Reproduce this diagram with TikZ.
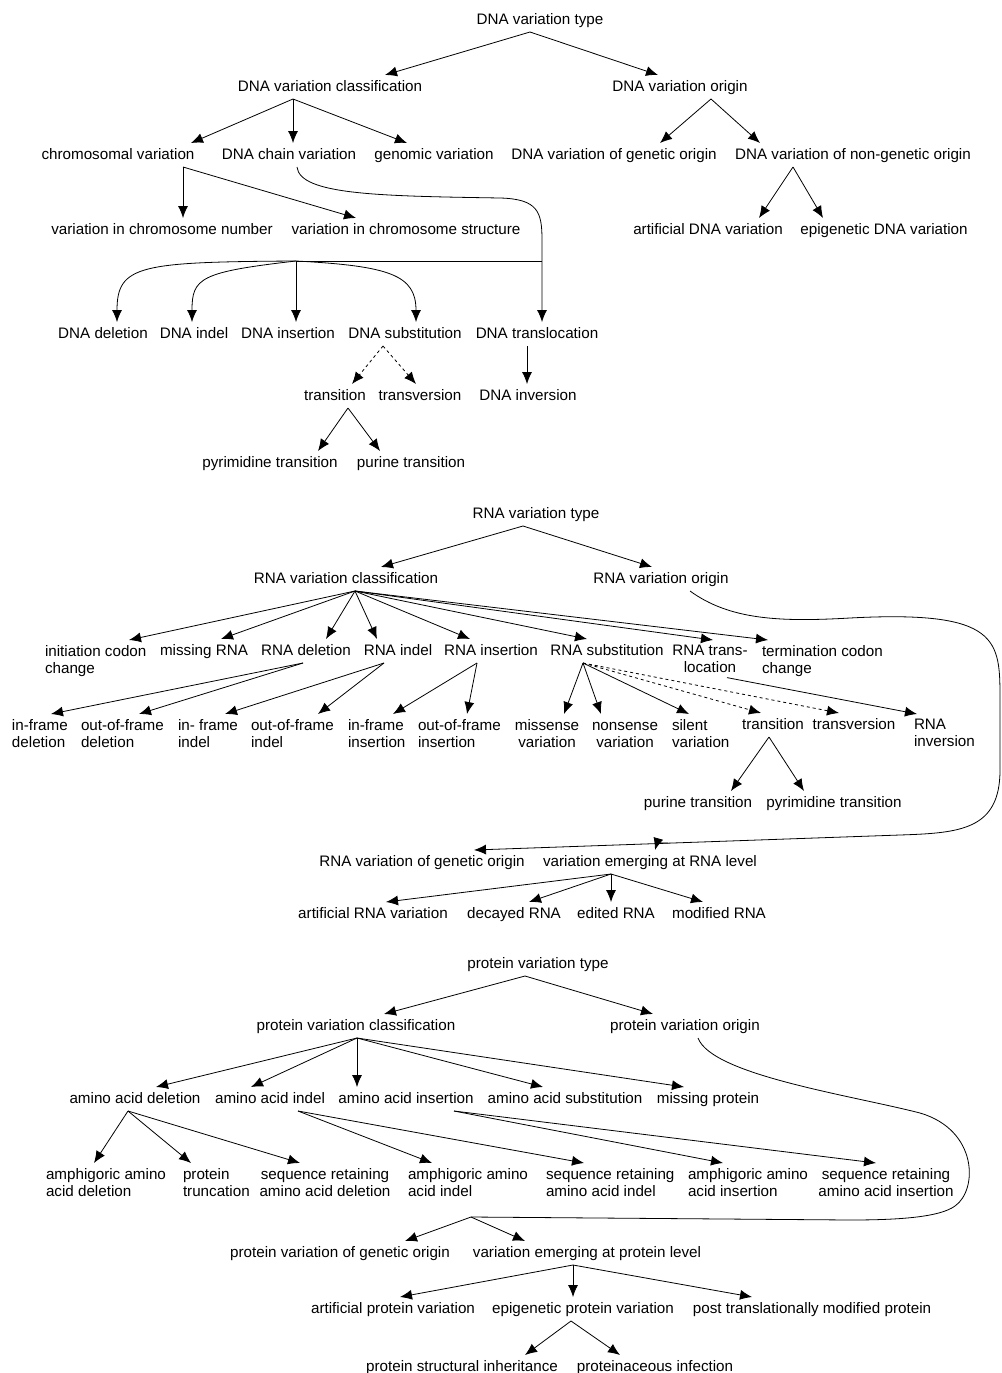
\documentclass[tikz,border=0pt]{standalone}
\usepackage{fontspec}
\setmainfont{Liberation Sans}
\usetikzlibrary{arrows.meta}
\tikzset{
  lbl/.style={inner sep=0pt,outer xsep=0pt,outer ysep=5pt,text height=11pt,text depth=3pt},
  lbll/.style={inner sep=0pt,outer xsep=0pt,outer ysep=5pt,anchor=north west,align=left},
  lblc/.style={inner sep=0pt,outer xsep=0pt,outer ysep=5pt,anchor=north,align=center}
}
\begin{document}
\begin{tikzpicture}[x=1pt,y=-1pt,line width=0.8pt,>={Latex[length=12pt,width=10pt]},font=\fontsize{15.2}{17}\selectfont]
   \useasboundingbox (0,0) rectangle (1001,1373);

   \node[lbl] (dnatype)   at (540,20)  {DNA variation type};
   \node[lbl] (dnaclass)  at (330,87)  {DNA variation classification};
   \node[lbl] (dnaorigin) at (680,87)  {DNA variation origin};
   \node[lbl] (chromo)    at (118,155) {chromosomal variation};
   \node[lbl] (chain)     at (289,155) {DNA chain variation};
   \node[lbl] (genomic)   at (434,155) {genomic variation};
   \node[lbl] (genetic)   at (614,155) {DNA variation of genetic origin};
   \node[lbl] (nongen)    at (853,155) {DNA variation of non-genetic origin};
   \node[lbl] (chrnum)    at (162,230) {variation in chromosome number};
   \node[lbl] (chrstr)    at (406,230) {variation in chromosome structure};
   \node[lbl] (artdna)    at (708,230) {artificial DNA variation};
   \node[lbl] (epidna)    at (884,230) {epigenetic DNA variation};
   \node[lbl] (deletion)  at (103,334) {DNA deletion};
   \node[lbl] (indel)     at (194,334) {DNA indel};
   \node[lbl] (insertion) at (288,334) {DNA insertion};
   \node[lbl] (subst)     at (405,334) {DNA substitution};
   \node[lbl] (transloc)  at (537,334) {DNA translocation};
   \node[lbl] (transit)   at (335,396) {transition};
   \node[lbl] (transv)    at (420,396) {transversion};
   \node[lbl] (invers)    at (528,396) {DNA inversion};
   \node[lbl] (pyrtr)     at (270,463) {pyrimidine transition};
   \node[lbl] (purtr)     at (411,463) {purine transition};
   \coordinate (jr) at (542,261);
   \coordinate (jl) at (296,261);

   \path[->] ([xshift=-10pt]dnatype.south) edge ([xshift=55pt]dnaclass.north) edge ([xshift=-22pt]dnaorigin.north);
   \path[->] ([xshift=-37pt]dnaclass.south) edge ([xshift=73pt]chromo.north) edge ([xshift=4pt]chain.north) edge ([xshift=-27pt]genomic.north);
   \path[->] ([xshift=31pt]dnaorigin.south) edge ([xshift=46pt]genetic.north) edge ([xshift=-93pt]nongen.north);
   \path[->] ([xshift=65pt]chromo.south) edge ([xshift=21pt]chrnum.north) edge ([xshift=-50pt]chrstr.north);
   \path[->] ([xshift=-60pt]nongen.south) edge ([xshift=51pt]artdna.north) edge ([xshift=-61pt]epidna.north);
   \draw[->] ([xshift=8pt]chain.south) .. controls (300,195) and (380,196) .. (500,198) .. controls (538,199) and (542,212) .. (542,240) -- ([xshift=5pt]transloc.north);
   \draw (jr) -- (jl);
   \draw[->] (jl) .. controls (140,262) and (117,265) .. ([xshift=14pt]deletion.north);
   \draw[->] (jl) .. controls (200,272) and (192,278) .. ([xshift=-2pt]indel.north);
   \draw[->] (jl) -- ([xshift=8pt]insertion.north);
   \draw[->] (jl) .. controls (390,266) and (416,275) .. ([xshift=11pt]subst.north);
   \path[->,dashed] ([xshift=-22pt]subst.south) edge ([xshift=17pt]transit.north) edge ([xshift=-4pt]transv.north);
   \draw[->] ([xshift=-10pt]transloc.south) -- ([xshift=-1pt]invers.north);
   \path[->] ([xshift=13pt]transit.south) edge ([xshift=48pt]pyrtr.north) edge ([xshift=-31pt]purtr.north);

   \node[lbl]  (rnatype)   at (536,514) {RNA variation type};
   \node[lbl]  (rnaclass)  at (346,579) {RNA variation classification};
   \node[lbl]  (rnaorigin) at (661,579) {RNA variation origin};
   \node[lbll] (initcodon) at (45,640)  {initiation codon\\change};
   \node[lbl]  (missrna)   at (204,651) {missing RNA};
   \node[lbl]  (rnadel)    at (306,651) {RNA deletion};
   \node[lbl]  (rnaindel)  at (398,651) {RNA indel};
   \node[lbl]  (rnains)    at (491,651) {RNA insertion};
   \node[lbl]  (rnasub)    at (607,651) {RNA substitution};
   \node[lblc] (rnatrans)  at (710,640) {RNA trans-\\location};
   \node[lbll] (termcodon) at (762,640) {termination codon\\change};
   \node[lbll] (ifdel)     at (12,714)  {in-frame\\deletion};
   \node[lbll] (oofdel)    at (81,714)  {out-of-frame\\deletion};
   \node[lbll] (ifindel)   at (178,714) {in- frame\\indel};
   \node[lbll] (oofindel)  at (251,714) {out-of-frame\\indel};
   \node[lbll] (ifins)     at (348,714) {in-frame\\insertion};
   \node[lbll] (oofins)    at (418,714) {out-of-frame\\insertion};
   \node[lblc] (missense)  at (547,714) {missense\\variation};
   \node[lblc] (nonsense)  at (625,714) {\vphantom{h}nonsense\\variation};
   \node[lbll] (silent)    at (672,714) {silent\\variation};
   \node[lbl]  (rtransit)  at (773,725) {transition};
   \node[lbl]  (rtransv)   at (854,725) {transversion};
   \node[lbll] (rnainv)    at (914,714) {RNA\\inversion};
   \node[lbl]  (rpur)      at (698,803) {purine transition};
   \node[lbl]  (rpyr)      at (834,803) {pyrimidine transition};
   \node[lbl]  (rnagen)    at (422,862) {RNA variation of genetic origin};
   \node[lbl]  (rnalevel)  at (650,862) {variation emerging at RNA level};
   \node[lbl]  (artrna)    at (373,914) {artificial RNA variation};
   \node[lbl]  (decrna)    at (514,914) {decayed RNA};
   \node[lbl]  (edirna)    at (616,914) {edited RNA};
   \node[lbl]  (modrna)    at (719,914) {modified RNA};
   \coordinate (rj) at (668,843);

   \path[->] ([xshift=-13pt]rnatype.south) edge ([xshift=35pt]rnaclass.north) edge ([xshift=-9pt]rnaorigin.north);
   \path[->] ([xshift=9pt]rnaclass.south) edge ([xshift=84pt]initcodon.north west) edge ([xshift=17pt]missrna.north)
      edge ([xshift=20pt]rnadel.north) edge ([xshift=-21pt]rnaindel.north) edge ([xshift=-21pt]rnains.north)
      edge ([xshift=-20pt]rnasub.north) edge ([xshift=3pt]rnatrans.north) edge ([xshift=6pt]termcodon.north west);
   \path[->] ([xshift=-3pt]rnadel.south) edge ([xshift=39pt]ifdel.north west) edge ([xshift=58pt]oofdel.north west);
   \path[->] ([xshift=-14pt]rnaindel.south) edge ([xshift=47pt]ifindel.north west) edge ([xshift=67pt]oofindel.north west);
   \path[->] ([xshift=-14pt]rnains.south) edge ([xshift=45pt]ifins.north west) edge ([xshift=49pt]oofins.north west);
   \path[->] ([xshift=-24pt]rnasub.south) edge ([xshift=17pt]missense.north) edge ([xshift=-24pt]nonsense.north) edge ([xshift=17pt]silent.north west);
   \path[->,dashed] ([xshift=-24pt]rnasub.south) edge ([xshift=-12pt]rtransit.north) edge ([xshift=-15pt]rtransv.north);
   \draw[->] ([xshift=17pt]rnatrans.south) -- ([xshift=3pt]rnainv.north west);
   \path[->] ([xshift=-4pt]rtransit.south) edge ([xshift=33pt]rpur.north) edge ([xshift=-30pt]rpyr.north);
   \draw[->] ([xshift=29pt]rnaorigin.south) .. controls (730,620) and (780,622) .. (850,618) .. controls (1000,610) and (1000,640) .. (1000,700) -- (1000,770) .. controls (1000,830) and (960,833) .. (900,835) -- ([xshift=52pt]rnagen.north);
   \draw[->] (rj) .. controls (657,843) .. ([xshift=5pt]rnalevel.north);
   \path[->] ([xshift=-39pt]rnalevel.south) edge ([xshift=13pt]artrna.north) edge ([xshift=15pt]decrna.north) edge ([xshift=-5pt]edirna.north) edge ([xshift=-16pt]modrna.north);

   \node[lbl]  (ptype)     at (538,964)  {protein variation type};
   \node[lbl]  (pclass)    at (356,1026) {protein variation classification};
   \node[lbl]  (porigin)   at (685,1026) {protein variation origin};
   \node[lbl]  (aadel)     at (135,1099) {amino acid deletion};
   \node[lbl]  (aaindel)   at (270,1099) {amino acid indel};
   \node[lbl]  (aains)     at (406,1099) {amino acid insertion};
   \node[lbl]  (aasub)     at (565,1099) {amino acid substitution};
   \node[lbl]  (missprot)  at (708,1099) {missing protein};
   \node[lbll] (amphdel)   at (46,1163)  {amphigoric amino\\acid deletion};
   \node[lbll] (ptrunc)    at (183,1163) {protein\\truncation};
   \node[lblc] (srdel)     at (325,1163) {sequence retaining\\amino acid deletion};
   \node[lbll] (amphindel) at (408,1163) {amphigoric amino\\acid indel};
   \node[lbll] (srindel)   at (546,1163) {sequence retaining\\amino acid indel};
   \node[lbll] (amphins)   at (688,1163) {amphigoric amino\\acid insertion};
   \node[lblc] (srins)     at (886,1163) {sequence retaining\\amino acid insertion};
   \node[lbl]  (pgen)      at (340,1253) {protein variation of genetic origin};
   \node[lbl]  (plevel)    at (587,1253) {variation emerging at protein level};
   \node[lbl]  (artprot)   at (393,1309) {artificial protein variation};
   \node[lbl]  (epiprot)   at (583,1309) {epigenetic protein variation};
   \node[lbl]  (ptm)       at (812,1309) {post translationally modified protein};
   \node[lbl]  (pinh)      at (462,1367) {protein structural inheritance};
   \node[lbl]  (pinf)      at (655,1367) {proteinaceous infection};
   \coordinate (pj) at (471,1217);

   \path[->] ([xshift=-13pt]ptype.south) edge ([xshift=28pt]pclass.north) edge ([xshift=-32pt]porigin.north);
   \path[->] ([xshift=1pt]pclass.south) edge ([xshift=21pt]aadel.north) edge ([xshift=-19pt]aaindel.north)
      edge ([xshift=-49pt]aains.north) edge ([xshift=-22pt]aasub.north) edge ([xshift=-24pt]missprot.north);
   \path[->] ([xshift=-7pt]aadel.south) edge ([xshift=48pt]amphdel.north west) edge ([xshift=8pt]ptrunc.north west) edge ([xshift=-25pt]srdel.north);
   \path[->] ([xshift=28pt]aaindel.south) edge ([xshift=24pt]amphindel.north west) edge ([xshift=38pt]srindel.north west);
   \path[->] ([xshift=48pt]aains.south) edge ([xshift=35pt]amphins.north west) edge ([xshift=-10pt]srins.north);
   \draw ([xshift=13pt]porigin.south) .. controls (712,1075) and (850,1095) .. (920,1113) .. controls (978,1130) and (978,1190) .. (955,1206) .. controls (940,1217) and (900,1220) .. (850,1220) -- (pj);
   \path[->] (pj) edge ([xshift=65pt]pgen.north) edge ([xshift=-62pt]plevel.north);
   \path[->] ([xshift=-14pt]plevel.south) edge ([xshift=7pt]artprot.north) edge ([xshift=-10pt]epiprot.north) edge ([xshift=-60pt]ptm.north);
   \path[->] ([xshift=-12pt]epiprot.south) edge ([xshift=63pt]pinh.north) edge ([xshift=-35pt]pinf.north);
  \end{tikzpicture}
\end{document}
